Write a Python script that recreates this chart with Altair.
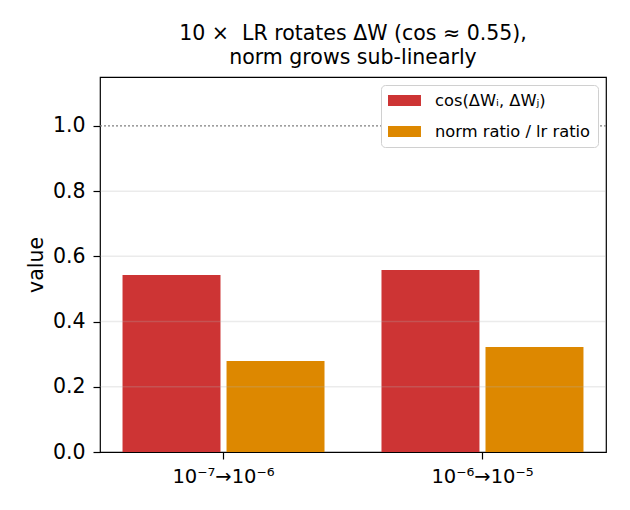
import altair as alt
import pandas as pd

groups = ["10⁻⁷→10⁻⁶", "10⁻⁶→10⁻⁵"]
series = ["cos(ΔWᵢ, ΔWⱼ)", "norm ratio / lr ratio"]
cos_vals = [0.543, 0.558]
norm_vals = [0.279, 0.322]
colors = ["#CD3434", "#DD8800"]
grid_ticks = [0.2, 0.4, 0.6, 0.8]
ref_value = [1.0]
y_ticks = [0.0, 0.2, 0.4, 0.6, 0.8, 1.0]

rows = []
for g, c, n in zip(groups, cos_vals, norm_vals):
    rows.append({"group": g, "series": series[0], "value": c})
    rows.append({"group": g, "series": series[1], "value": n})
df = pd.DataFrame(rows)
grid_df = pd.DataFrame({"y": grid_ticks})
ref_df = pd.DataFrame({"y": ref_value})

FONT = "DejaVu Sans"

x_enc = alt.X(
    "group:N", sort=groups,
    scale=alt.Scale(paddingInner=0.22, paddingOuter=0.087),
    axis=alt.Axis(title=None, labelAngle=0, labelFontSize=19.5, labelFont=FONT,
                  labelColor="black", domain=False, tickColor="black",
                  tickSize=7, tickWidth=1.2, labelPadding=8),
)
y_scale = alt.Scale(domain=[0, 1.15], nice=False, zero=True)

bars = alt.Chart(df).mark_bar().encode(
    x=x_enc,
    xOffset=alt.XOffset("series:N", sort=series,
                        scale=alt.Scale(paddingInner=0.058, paddingOuter=0)),
    y=alt.Y("value:Q", scale=y_scale,
            axis=alt.Axis(title="value", values=y_ticks, format=".1f", grid=False,
                          labelFontSize=20.5, labelFont=FONT, labelColor="black",
                          titleFontSize=20.5, titleFont=FONT, titleFontWeight="normal",
                          titleColor="black", titlePadding=6, domain=False,
                          tickColor="black", tickSize=7, tickWidth=1.2, labelPadding=8)),
    color=alt.Color("series:N", sort=series,
                    scale=alt.Scale(domain=series, range=colors),
                    legend=alt.Legend(title=None, orient="none", legendX=281, legendY=8,
                                      labelFontSize=16.3, labelFont=FONT, labelColor="black",
                                      symbolType="M-1,-0.65H2.88V0.65H-1Z", symbolSize=289,
                                      symbolStrokeWidth=0, symbolOpacity=1,
                                      labelOffset=30, rowPadding=14, padding=7,
                                      fillColor="white", strokeColor="#d0d0d0",
                                      cornerRadius=4)),
)

grid = alt.Chart(grid_df).mark_rule(color="#b0b0b0", opacity=0.25, strokeWidth=1.5).encode(
    y=alt.Y("y:Q", scale=y_scale)
)
ref = alt.Chart(ref_df).mark_rule(color="#808080", strokeDash=[2, 2], strokeWidth=1.3).encode(
    y=alt.Y("y:Q", scale=y_scale)
)

chart = alt.layer(bars, grid, ref).properties(
    width=506, height=375,
    background="white",
    title=alt.TitleParams(
        text=["10 ×\u00a0 LR rotates ΔW (cos ≈ 0.55),", "norm grows sub-linearly"],
        fontSize=20.5, font=FONT, fontWeight="normal", color="black",
        anchor="middle", offset=9, lineHeight=24),
    autosize=alt.AutoSizeParams(type="none"),
    padding={"left": 100, "top": 77, "right": 24, "bottom": 58},
).configure_view(stroke="black", strokeWidth=1.2)

chart.save("out.html", embed_options={"renderer": "svg", "actions": False})
